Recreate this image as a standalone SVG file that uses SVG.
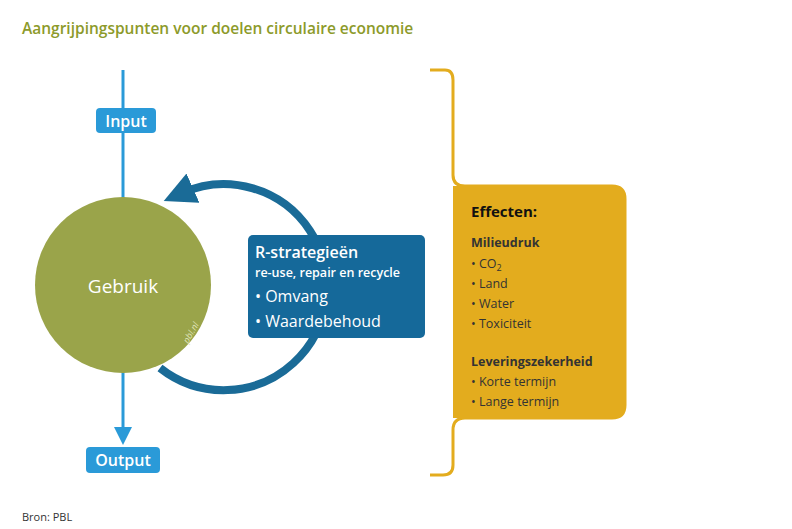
<svg xmlns="http://www.w3.org/2000/svg" width="792" height="529" viewBox="0 0 792 529">
<style>
.t{font-family:"Open Sans","Liberation Sans",sans-serif}
.w{fill:#fff}
.k{fill:#333}
</style>
<defs>
<marker id="ab" markerWidth="6" markerHeight="6" refX="3" refY="3" orient="auto" markerUnits="strokeWidth"><path d="M0,0 L6,3 L0,6z" fill="#2a9ad8"/></marker>
<marker id="ad" markerWidth="4" markerHeight="4" refX="1.5" refY="2" orient="auto" markerUnits="strokeWidth"><path d="M0,0 L4,2 L0,4z" fill="#1a6b97"/></marker>
</defs>
<rect width="792" height="529" fill="#fff"/>
<text x="22" y="34" class="t" font-size="15.5" font-weight="600" fill="#8c9a2a">Aangrijpingspunten voor doelen circulaire economie</text>
<g id="connectors">
<line x1="123" y1="70" x2="123" y2="218" stroke="#2a9ad8" stroke-width="3" marker-end="url(#ab)"/>
<line x1="123" y1="360" x2="123" y2="436" stroke="#2a9ad8" stroke-width="3" marker-end="url(#ab)"/>
<path d="M160,368 A103,103 0 1 0 182,193" fill="none" stroke="#1a6b97" stroke-width="8" marker-end="url(#ad)"/>
</g>
<g id="gebruik"><circle cx="123" cy="285" r="88" fill="#9aa44a"/>
<text x="123" y="293" text-anchor="middle" class="t w" font-size="19">Gebruik</text>
<text x="0" y="0" transform="translate(188,344) rotate(-60)" class="t" font-size="9" fill="#dfe3b8" font-style="italic">pbl.nl</text></g>
<g id="input"><rect x="96" y="108" width="60" height="25" rx="4" fill="#2a9ad8"/><text x="126" y="127" text-anchor="middle" class="t w" font-size="16" font-weight="600">Input</text></g>
<g id="output"><rect x="86" y="447" width="74" height="26" rx="4" fill="#2a9ad8"/><text x="123" y="466" text-anchor="middle" class="t w" font-size="16" font-weight="600">Output</text></g>
<g id="rstrat"><rect x="248" y="235" width="177" height="103" rx="5" fill="#15699a"/>
<text x="255" y="258" class="t w" font-size="16" font-weight="600">R-strategieën</text>
<text x="255" y="277" class="t w" font-size="12.5" font-weight="600">re-use, repair en recycle</text>
<text x="255" y="302" class="t w" font-size="16">•  Omvang</text>
<text x="255" y="327" class="t w" font-size="16">•  Waardebehoud</text></g>
<g id="effecten">
<path d="M430,70 H445 Q453,70 453,80 V175 Q453,186 465,186 H612 Q625,186 625,199 V405 Q625,418 612,418 H465 Q453,418 453,430 V465 Q453,475 443,475 H430" fill="none" stroke="#e3ac1e" stroke-width="3"/>
<path d="M453,186 H612 Q625,186 625,199 V405 Q625,418 612,418 H453 Z" fill="#e3ac1e"/>
<text x="471" y="217" class="t" font-size="15" font-weight="700" fill="#111">Effecten:</text>
<text x="471" y="247" class="t k" font-size="12.5" font-weight="700">Milieudruk</text>
<text x="471" y="268" class="t k" font-size="12.5">•    CO<tspan font-size="9" dy="3">2</tspan></text>
<text x="471" y="288" class="t k" font-size="12.5">•    Land</text>
<text x="471" y="308" class="t k" font-size="12.5">•    Water</text>
<text x="471" y="328" class="t k" font-size="12.5">•    Toxiciteit</text>
<text x="471" y="366" class="t k" font-size="12.5" font-weight="700">Leveringszekerheid</text>
<text x="471" y="386" class="t k" font-size="12.5">•    Korte termijn</text>
<text x="471" y="406" class="t k" font-size="12.5">•    Lange termijn</text>
</g>
<text x="22" y="521" class="t" font-size="11" fill="#333">Bron: PBL</text>
</svg>
